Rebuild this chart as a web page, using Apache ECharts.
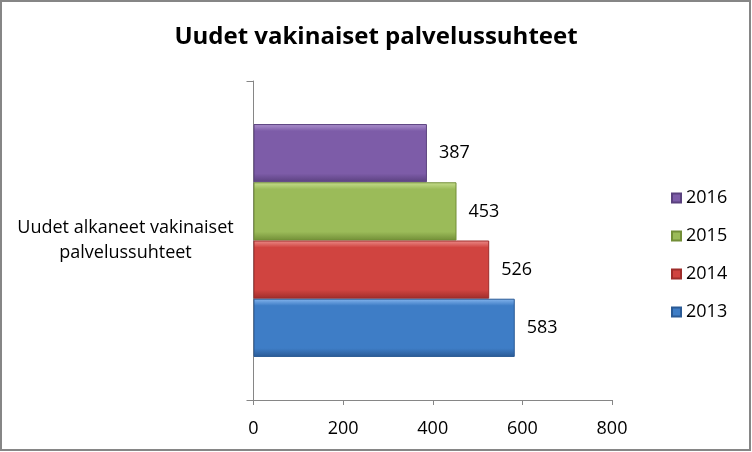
<!DOCTYPE html>
<html>
<head>
<meta charset="utf-8">
<script src="https://cdn.jsdelivr.net/npm/echarts@6/dist/echarts.min.js"></script>
<style>
html,body{margin:0;padding:0;background:#fff;}
#c{width:752px;height:452px;}
</style>
</head>
<body>
<div id="c"></div>
<script>
const title = 'Uudet vakinaiset palvelussuhteet';
const categories = ['Uudet alkaneet vakinaiset palvelussuhteet'];
const seriesNames = ['2016', '2015', '2014', '2013'];
const values2016 = [387];
const values2015 = [453];
const values2014 = [526];
const values2013 = [583];
const xTicks = [0, 200, 400, 600, 800];

const seriesValues = [values2016, values2015, values2014, values2013];
const palettes = [
  ['#AE93CF', '#7D5CA8', '#5A417E'],
  ['#C7DE8F', '#9BBB59', '#728E37'],
  ['#EC8E8B', '#D04440', '#9E2D2A'],
  ['#86B6EE', '#3E7DC6', '#2A5A95']
];
const FONT = 'Open Sans';

const chart = echarts.init(document.getElementById('c'));
chart.setOption({
  animation: false,
  textStyle: { fontFamily: FONT },
  title: {
    text: title,
    left: 'center',
    top: 20,
    textStyle: { fontFamily: FONT, fontSize: 24, fontWeight: 'bold', color: '#000' }
  },
  graphic: [{
    type: 'rect',
    shape: { x: 1, y: 1, width: 749, height: 449 },
    style: { fill: 'none', stroke: '#868686', lineWidth: 2 },
    silent: true
  }],
  legend: {
    orient: 'vertical',
    left: 666,
    top: 184,
    itemGap: 20,
    itemWidth: 9,
    itemHeight: 9,
    icon: 'rect',
    data: seriesNames,
    textStyle: { fontFamily: FONT, fontSize: 18, color: '#000', padding: [0, 0, 0, 0] }
  },
  grid: { left: 253.5, right: 140, top: 81, bottom: 52, containLabel: false },
  xAxis: {
    type: 'value',
    min: xTicks[0],
    max: xTicks[xTicks.length - 1],
    interval: 200,
    splitLine: { show: false },
    axisLine: { show: true, lineStyle: { color: '#868686', width: 1 } },
    axisTick: { show: true, length: 5, lineStyle: { color: '#868686' } },
    axisLabel: { fontFamily: FONT, fontSize: 18, color: '#000', margin: 20 }
  },
  yAxis: {
    type: 'category',
    data: categories,
    axisLine: { show: true, lineStyle: { color: '#868686', width: 1 } },
    axisTick: { show: true, length: 7, lineStyle: { color: '#868686' } },
    axisLabel: {
      fontFamily: FONT, fontSize: 18, color: '#000', align: 'center', margin: 128, lineHeight: 25,
      formatter: v => v.replace(' palvelussuhteet', '\npalvelussuhteet')
    }
  },
  series: seriesNames.map((name, i) => ({
    name: name,
    type: 'bar',
    data: seriesValues[i],
    barGap: '0%',
    barCategoryGap: '27%',
    itemStyle: {
      color: new echarts.graphic.LinearGradient(0, 0, 0, 1, [
        { offset: 0, color: palettes[i][0] },
        { offset: 0.12, color: palettes[i][1] },
        { offset: 0.85, color: palettes[i][1] },
        { offset: 1, color: palettes[i][2] }
      ]),
      borderColor: palettes[i][2],
      borderWidth: 1
    },
    label: {
      show: true,
      position: 'right',
      distance: 12,
      fontFamily: FONT,
      fontSize: 18,
      color: '#000'
    }
  }))
});
</script>
</body>
</html>
